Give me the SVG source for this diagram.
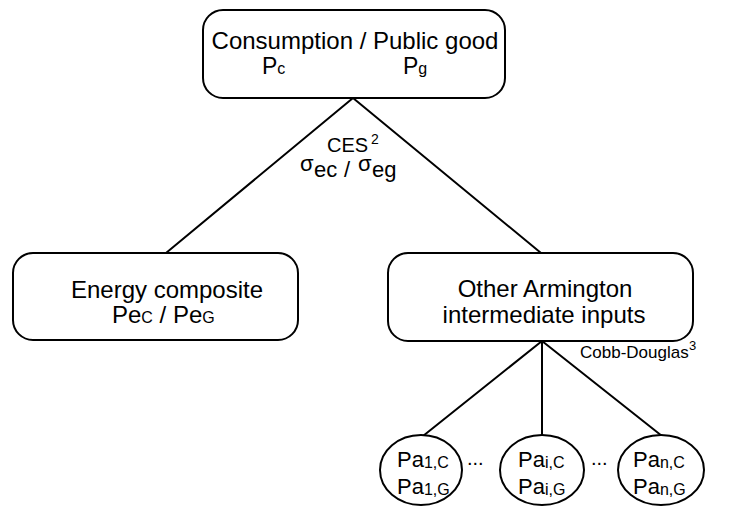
<svg xmlns="http://www.w3.org/2000/svg" width="729" height="507" viewBox="0 0 729 507">
<style>
.box{fill:#fff;stroke:#000;stroke-width:2}
.ln{stroke:#000;stroke-width:2;fill:none}
text{font-family:"Liberation Sans",Arial,sans-serif;fill:#000}
.big{font-size:24px}
</style>
<rect width="729" height="507" fill="#fff"/>
<g id="connectors">
<path class="ln" d="M353,98 L166,253 M353,98 L541,253"/>
<path class="ln" d="M542,341 L423,436 M542,341 L542,435 M542,341 L662,436"/>
</g>
<g id="top">
<rect class="box" x="203" y="10" width="302" height="88" rx="20"/>
<text class="big"><tspan x="355" y="49" text-anchor="middle">Consumption / Public good</tspan><tspan x="262" y="74" font-size="23">P</tspan><tspan font-size="16">c</tspan><tspan x="403" y="74" font-size="23">P</tspan><tspan font-size="16">g</tspan></text>
</g>
<g id="ces-label">
<text font-size="22"><tspan x="327" y="152" font-size="20">CES</tspan><tspan x="371" y="144" font-size="14">2</tspan><tspan x="300" y="171">σ</tspan><tspan x="314" y="177">ec</tspan><tspan x="344" y="177">/</tspan><tspan x="358" y="171">σ</tspan><tspan x="372" y="177">eg</tspan></text>
</g>
<g id="energy">
<rect class="box" x="13" y="253" width="285" height="87" rx="20"/>
<text class="big"><tspan x="167" y="298" text-anchor="middle">Energy composite</tspan><tspan x="112" y="323">Pe</tspan><tspan font-size="16">C</tspan><tspan> / Pe</tspan><tspan font-size="16">G</tspan></text>
</g>
<g id="armington">
<rect class="box" x="388" y="253" width="305" height="88" rx="20"/>
<text class="big" text-anchor="middle"><tspan x="545" y="297">Other Armington</tspan><tspan x="544" y="323">intermediate inputs</tspan></text>
</g>
<g id="cobb-label">
<text font-size="17"><tspan x="580" y="358">Cobb-Douglas</tspan><tspan x="689" y="350" font-size="13">3</tspan></text>
</g>
<g id="pa1">
<ellipse class="box" cx="421" cy="470" rx="41" ry="35"/>
<text font-size="22"><tspan x="397" y="467">Pa</tspan><tspan font-size="16" dy="1">1,C</tspan><tspan x="397" y="494">Pa</tspan><tspan font-size="16" dy="1">1,G</tspan></text>
</g>
<g id="dots1"><text x="467" y="465" font-size="20">...</text></g>
<g id="pai">
<ellipse class="box" cx="542" cy="470" rx="42" ry="35"/>
<text font-size="22"><tspan x="518" y="467">Pa</tspan><tspan font-size="16" dy="1">i,C</tspan><tspan x="518" y="494">Pa</tspan><tspan font-size="16" dy="1">i,G</tspan></text>
</g>
<g id="dots2"><text x="591" y="465" font-size="20">...</text></g>
<g id="pan">
<ellipse class="box" cx="661" cy="470" rx="43" ry="35"/>
<text font-size="22"><tspan x="633" y="467">Pa</tspan><tspan font-size="16" dy="1">n,C</tspan><tspan x="633" y="494">Pa</tspan><tspan font-size="16" dy="1">n,G</tspan></text>
</g>
</svg>
